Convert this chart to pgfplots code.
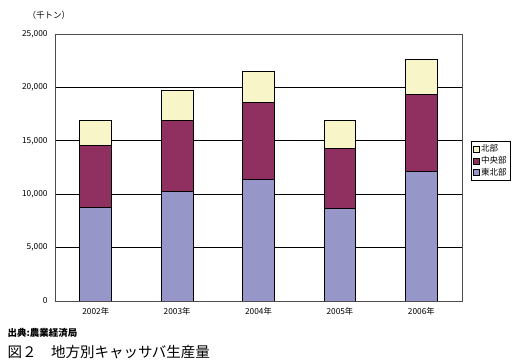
\documentclass[border=0pt]{standalone}
\usepackage{fontspec}
\setmainfont{Noto Sans CJK JP}
\usepackage{pgfplots}
\pgfplotsset{compat=1.18}
\definecolor{cBlue}{HTML}{9696C8}
\definecolor{cMar}{HTML}{903060}
\definecolor{cYel}{HTML}{F8F6C8}
\begin{document}
\begin{tikzpicture}
\path[use as bounding box] (0,0) rectangle (530bp,360bp);
\begin{axis}[
  at={(55bp,59bp)}, anchor=south west,
  scale only axis, width=407bp, height=267bp,
  ybar stacked, bar width=0.39,
  xmin=-0.5, xmax=4.5, ymin=0, ymax=25000,
  xtick={0,1,2,3,4},
  xticklabels={2002年,2003年,2004年,2005年,2006年},
  extra x ticks={0.5,1.5,2.5,3.5},
  extra x tick labels={},
  extra x tick style={major tick length=4bp, tick style={black, line width=0.6pt}, grid=none},
  x tick style={draw=none},
  ytick={0,5000,10000,15000,20000,25000},
  y tick style={draw=none},
  yticklabel style={/pgf/number format/1000 sep={,}},
  /pgf/number format/assume math mode=true,
  scaled y ticks=false,
  tick label style={font=\fontsize{8.3bp}{9bp}\selectfont},
  xticklabel style={yshift=-3bp},
  yticklabel style={xshift=-4bp},
  ymajorgrids, major grid style={black, line width=0.8pt},
  axis line style={gray!60!black, line width=0.9pt},
  legend style={at={(1.022,0.599)}, anchor=north west, draw=black, line width=0.6pt,
    font=\fontsize{8.5bp}{10bp}\selectfont, inner sep=1.5pt, row sep=-1pt,
    /tikz/every even column/.append style={column sep=0pt}},
  legend cell align=left,
  reverse legend,
  legend image code/.code={\draw[#1, draw=black, line width=0.5pt] (0bp,-3bp) rectangle (6bp,3bp);},
  every axis plot/.append style={draw=black, line width=0.7pt},
]
\addplot[fill=cBlue] coordinates {(0,8780) (1,10280) (2,11400) (3,8690) (4,12110)};
\addplot[fill=cMar] coordinates {(0,5760) (1,6660) (2,7200) (3,5610) (4,7260)};
\addplot[fill=cYel] coordinates {(0,2340) (1,2780) (2,2900) (3,2600) (4,3230)};
\legend{東北部,中央部,北部}
\end{axis}
\node[anchor=west, font=\fontsize{8.5bp}{10bp}\selectfont] at (24bp,345bp) {（千トン）};
\node[anchor=west, font=\bfseries\fontsize{9.5bp}{11bp}\selectfont] at (4bp,27bp) {出典:農業経済局};
\node[anchor=west, font=\fontsize{14.5bp}{16bp}\selectfont] at (4bp,8bp) {図２　地方別キャッサバ生産量};
\end{tikzpicture}
\end{document}
